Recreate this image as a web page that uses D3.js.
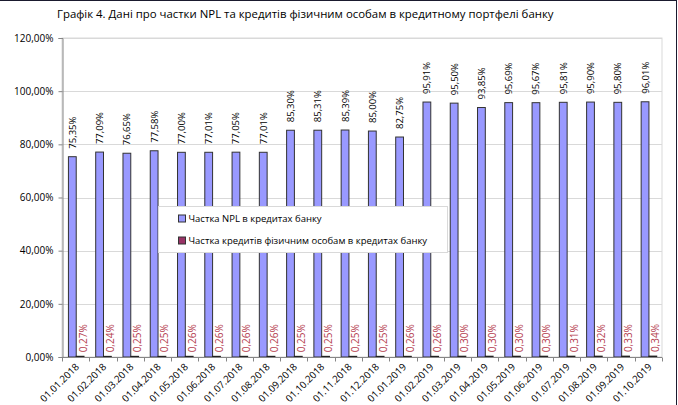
<!DOCTYPE html>
<html>
<head>
<meta charset="utf-8">
<script src="https://cdn.jsdelivr.net/npm/d3@7"></script>
<style>
  body { margin: 0; background: #fff; }
  svg { font-family: "Open Sans", sans-serif; display: block; }
</style>
</head>
<body>
<svg id="chart" width="678" height="405"></svg>
<script>
// Dates (categories)
const dates = ["01.01.2018","01.02.2018","01.03.2018","01.04.2018","01.05.2018","01.06.2018","01.07.2018","01.08.2018","01.09.2018","01.10.2018","01.11.2018","01.12.2018","01.01.2019","01.02.2019","01.03.2019","01.04.2019","01.05.2019","01.06.2019","01.07.2019","01.08.2019","01.09.2019","01.10.2019"];

// Share of NPL in bank credits, %
const nplShare = [75.35,77.09,76.65,77.58,77.00,77.01,77.05,77.01,85.30,85.31,85.39,85.00,82.75,95.91,95.50,93.85,95.69,95.67,95.81,95.90,95.80,96.01];

// Share of credits to individuals, %
const fizShare = [0.27,0.24,0.25,0.25,0.26,0.26,0.26,0.26,0.25,0.25,0.25,0.25,0.26,0.26,0.30,0.30,0.30,0.30,0.31,0.32,0.33,0.34];

const seriesNames = ["Частка NPL в кредитах банку", "Частка кредитів фізичним особам в кредитах банку"];
const yTicks = [0, 20, 40, 60, 80, 100, 120];

const width = 678;
const height = 405;
const margin = {top: 38, right: 16, bottom: 48, left: 62};

const svg = d3.select("#chart");
const fmt = v => d3.format(".2f")(v).replace(".", ",") + "%";

// Outer frame (top & right visible)
svg.append("line").attr("x1", 0).attr("x2", 676.5).attr("y1", 0.5).attr("y2", 0.5).attr("stroke", "#1a1a2e");
svg.append("line").attr("x1", 676.5).attr("x2", 676.5).attr("y1", 0).attr("y2", height).attr("stroke", "#1a1a2e");

// Title
svg.append("text")
  .attr("x", 57)
  .attr("y", 18)
  .attr("font-size", 11.4)
  .attr("fill", "#000")
  .text("Графік 4. Дані про частки NPL та кредитів фізичним особам в кредитному портфелі банку");

// Scales
const x = d3.scaleBand()
  .domain(dates)
  .range([margin.left, width - margin.right]);

const xs = d3.scaleBand()
  .domain([0, 1])
  .range([0, x.bandwidth()])
  .paddingOuter(0.75)
  .align(0.55);

const y = d3.scaleLinear()
  .domain([0, 120])
  .range([height - margin.bottom, margin.top]);

// Plot area border
svg.append("rect")
  .attr("x", margin.left)
  .attr("y", y(120))
  .attr("width", width - margin.right - margin.left)
  .attr("height", y(0) - y(120))
  .attr("fill", "none")
  .attr("stroke", "#d9d9d9");

// Gridlines
svg.append("g")
  .selectAll("line")
  .data(yTicks.filter(d => d > 0))
  .join("line")
  .attr("x1", margin.left)
  .attr("x2", width - margin.right)
  .attr("y1", d => Math.round(y(d)) + 0.5)
  .attr("y2", d => Math.round(y(d)) + 0.5)
  .attr("stroke", "#d9d9d9");

// Y axis
const yAxis = svg.append("g")
  .attr("transform", `translate(${margin.left + 0.5},0)`)
  .call(d3.axisLeft(y).tickValues(yTicks).tickSize(4).tickPadding(5).tickFormat(fmt));
yAxis.select(".domain").attr("stroke", "#868686");
yAxis.selectAll(".tick line").attr("stroke", "#868686");
yAxis.selectAll("text").attr("font-size", 10).attr("fill", "#000").attr("font-family", "Open Sans");

// Bars - NPL
svg.append("g")
  .selectAll("rect")
  .data(nplShare)
  .join("rect")
  .attr("x", (d, i) => x(dates[i]) + xs(0))
  .attr("y", d => y(d))
  .attr("width", xs.bandwidth())
  .attr("height", d => y(0) - y(d))
  .attr("fill", "#9999ff")
  .attr("stroke", "#333")
  .attr("stroke-width", 1);

// Bars - individuals
svg.append("g")
  .selectAll("rect")
  .data(fizShare)
  .join("rect")
  .attr("x", (d, i) => x(dates[i]) + xs(1))
  .attr("y", d => y(d))
  .attr("width", xs.bandwidth())
  .attr("height", d => y(0) - y(d))
  .attr("fill", "#993366")
  .attr("stroke", "#222")
  .attr("stroke-width", 1);

// X axis
const xAxis = svg.append("g")
  .attr("transform", `translate(0,${y(0) + 0.5})`);
xAxis.append("line")
  .attr("x1", margin.left).attr("x2", width - margin.right)
  .attr("stroke", "#868686");
xAxis.selectAll(".tk")
  .data(dates.concat(["end"]))
  .join("line")
  .attr("class", "tk")
  .attr("x1", (d, i) => Math.round(margin.left + i * x.step()) + 0.5)
  .attr("x2", (d, i) => Math.round(margin.left + i * x.step()) + 0.5)
  .attr("y1", 0).attr("y2", 4)
  .attr("stroke", "#868686");
xAxis.selectAll("text")
  .data(dates)
  .join("text")
  .attr("transform", d => `translate(${x(d) + x.bandwidth() / 2 + 4},${10}) rotate(-45)`)
  .attr("text-anchor", "end")
  .attr("font-size", 9.8)
  .attr("fill", "#000")
  .text(d => d);

// Data labels - NPL
svg.append("g")
  .selectAll("text")
  .data(nplShare)
  .join("text")
  .attr("transform", (d, i) => `translate(${x(dates[i]) + xs(0) + xs.bandwidth() / 2 + 3.5},${y(d) - 8}) rotate(-90)`)
  .attr("font-size", 9.5)
  .attr("fill", "#000")
  .text(fmt);

// Data labels - individuals
svg.append("g")
  .selectAll("text")
  .data(fizShare)
  .join("text")
  .attr("transform", (d, i) => `translate(${x(dates[i]) + xs(1) + xs.bandwidth() / 2 + 6.5},${y(d) - 4}) rotate(-90)`)
  .attr("font-size", 10)
  .attr("fill", "#b5404f")
  .text(fmt);

// Legend
const legend = svg.append("g").attr("transform", "translate(158.5,206.5)");
legend.append("rect")
  .attr("width", 289)
  .attr("height", 46)
  .attr("fill", "#fff")
  .attr("stroke", "#d9d9d9");
const items = legend.selectAll("g")
  .data(seriesNames)
  .join("g")
  .attr("transform", (d, i) => `translate(20,${12 + i * 22})`);
items.append("rect")
  .attr("x", 0).attr("y", -3.5)
  .attr("width", 7).attr("height", 7)
  .attr("fill", (d, i) => i === 0 ? "#9999ff" : "#993366")
  .attr("stroke", "#333");
items.append("text")
  .attr("x", 10)
  .attr("y", 3.5)
  .attr("font-size", 9.5)
  .attr("fill", "#000")
  .text(d => d);
</script>
</body>
</html>
